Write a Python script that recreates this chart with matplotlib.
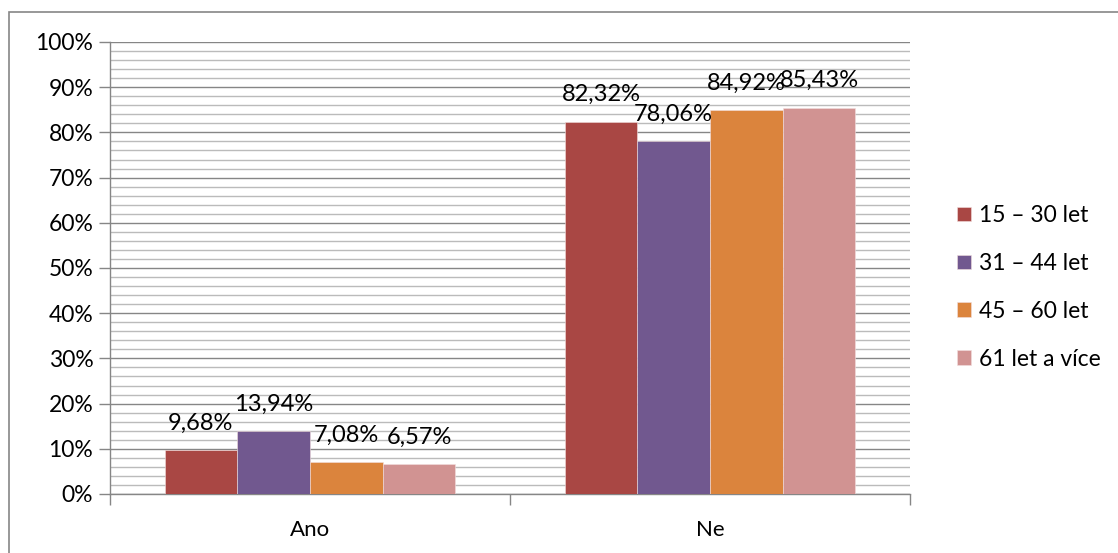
import matplotlib
matplotlib.use("Agg")
import matplotlib.pyplot as plt
from matplotlib.patches import Rectangle
from matplotlib.ticker import MultipleLocator, FuncFormatter
import numpy as np

categories = ["Ano", "Ne"]
series_names = ["15 – 30 let", "31 – 44 let", "45 – 60 let", "61 let a více"]
values = {
    "15 – 30 let": [9.68, 82.32],
    "31 – 44 let": [13.94, 78.06],
    "45 – 60 let": [7.08, 84.92],
    "61 let a více": [6.57, 85.43],
}
colors = ["#A94744", "#71588F", "#DB843D", "#D19392"]

plt.rcParams["font.family"] = ["Lato", "DejaVu Sans"]

fig = plt.figure(figsize=(11.18, 5.53), dpi=100)
ax = fig.add_axes([110 / 1118, 59 / 553, 800 / 1118, 452 / 553])

# outer chart frame
fig.patches.append(Rectangle((9 / 1118, -0.01), 1.1, (553 - 12) / 553 + 0.01,
                             transform=fig.transFigure, fill=False,
                             edgecolor="#868686", linewidth=1.2))

n = len(series_names)
width = 1 / (n + 1.5)
x = np.arange(len(categories))
for i, (name, col) in enumerate(zip(series_names, colors)):
    offs = (i - (n - 1) / 2) * width
    vals = values[name]
    ax.bar(x + offs, vals, width, color=col, label=name, zorder=3,
           edgecolor="#f2dede", linewidth=0.4)
    for xi, v in zip(x, vals):
        ax.annotate(f"{v:.2f}%".replace(".", ","), (xi + offs, v),
                    xytext=(0, 19.5), textcoords="offset points",
                    ha="center", va="center", fontsize=17, color="#000000",
                    zorder=5)

ax.set_xlim(-0.5, 1.5)
ax.set_ylim(0, 100)
ax.yaxis.set_major_locator(MultipleLocator(10))
ax.yaxis.set_minor_locator(MultipleLocator(2))
ax.yaxis.set_major_formatter(FuncFormatter(lambda v, p: f"{v:.0f}%"))
ax.grid(which="major", axis="y", color="#868686", linewidth=1.0, zorder=1)
ax.grid(which="minor", axis="y", color="#BBBBBB", linewidth=1.0, zorder=1)

# category ticks at boundaries, labels centred
ax.set_xticks([-0.5, 0.5, 1.5])
ax.set_xticklabels([])
ax.set_xticks(x, minor=True)
ax.set_xticklabels(categories, minor=True)
ax.tick_params(axis="x", which="major", length=8, width=1, color="#868686", direction="out")
ax.tick_params(axis="x", which="minor", length=0, labelsize=16, pad=19)
ax.tick_params(axis="y", which="major", length=8, width=1, color="#868686",
               labelsize=16.5, pad=4)
ax.tick_params(axis="y", which="minor", length=0)

for s in ["top", "right"]:
    ax.spines[s].set_visible(False)
for s in ["left", "bottom"]:
    ax.spines[s].set_color("#868686")
    ax.spines[s].set_linewidth(1.0)

leg = fig.legend(loc="upper left", bbox_to_anchor=(948 / 1118, 1 - 196 / 553),
                 frameon=False, fontsize=16.5, handlelength=0.6, handleheight=0.6,
                 handletextpad=0.35, labelspacing=1.17, borderaxespad=0)

fig.savefig("out.png", dpi=100)
